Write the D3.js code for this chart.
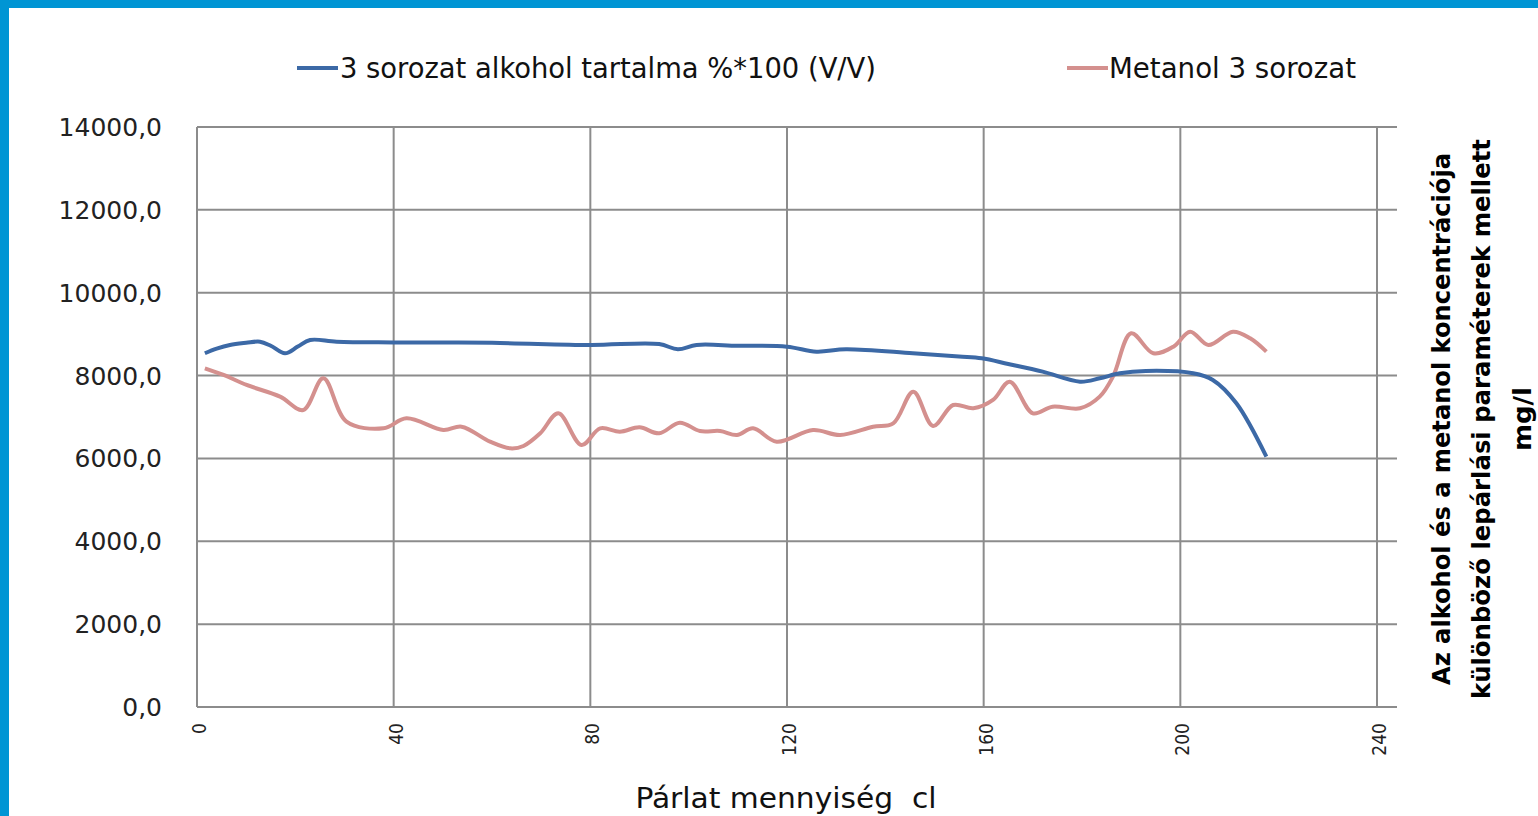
<!DOCTYPE html>
<html>
<head>
<meta charset="utf-8">
<script src="https://cdn.jsdelivr.net/npm/d3@7"></script>
<style>
  html, body { margin: 0; padding: 0; background: #fff; }
  svg { display: block; }
</style>
</head>
<body>
<svg id="chart" width="1538" height="816"></svg>
<script>
// ---- data ----
const alcoholX = [1.6, 4, 6.7, 10, 12.8, 15, 17.9, 20.5, 23, 28.4, 40, 60, 80, 94, 97.8, 101.6, 110, 120, 126, 132, 145.6, 155, 159.6, 165, 172, 179.6, 183.6, 187.7, 193, 202.6, 206.6, 211.4, 217.5];
const alcoholY = [8538, 8650, 8739, 8790, 8818, 8720, 8538, 8700, 8859, 8818, 8800, 8790, 8739, 8760, 8635, 8739, 8720, 8698, 8577, 8635, 8538, 8460, 8417, 8280, 8095, 7853, 7934, 8055, 8111, 8055, 7894, 7331, 6042];

const methanolX = [1.6, 5.4, 10.1, 16.9, 21.6, 25.7, 30.4, 37.9, 42.6, 50.1, 53.8, 59.6, 63.7, 66.4, 69.8, 73.5, 78.2, 82, 86, 90, 94, 98.2, 102.3, 106.4, 109.8, 113.1, 117.9, 125.3, 130.8, 137.5, 141.6, 145.7, 149.7, 153.8, 157.9, 161.9, 165.3, 170, 174, 179.6, 183.6, 186.3, 190, 194.5, 198.6, 202, 205.7, 210.7, 214.2, 217.5];
const methanolY = [8176, 8015, 7773, 7491, 7169, 7934, 6887, 6726, 6968, 6686, 6766, 6404, 6244, 6300, 6606, 7089, 6324, 6726, 6646, 6750, 6606, 6863, 6662, 6662, 6566, 6726, 6404, 6686, 6566, 6766, 6847, 7612, 6783, 7290, 7210, 7411, 7853, 7089, 7250, 7210, 7491, 7974, 9020, 8538, 8698, 9060, 8739, 9060, 8899, 8577];

const seriesNames = ["3 sorozat alkohol tartalma %*100 (V/V)", "Metanol 3 sorozat"];
const xTicks = [0, 40, 80, 120, 160, 200, 240];
const yTicks = [0, 2000, 4000, 6000, 8000, 10000, 12000, 14000];
const xTitle = "Párlat mennyiség  cl";
const yTitleLines = ["Az alkohol és a metanol koncentrációja", "különböző lepárlási paraméterek mellett", "mg/l"];

// ---- layout ----
const svg = d3.select("#chart");
const plotLeft = 197, plotRight = 1397, plotTop = 127, plotBottom = 707;
const x = d3.scaleLinear().domain([0, 240]).range([197, 1377]);
const y = d3.scaleLinear().domain([0, 14000]).range([plotBottom, plotTop]);
const colors = ["#3c69a6", "#d4908e"];
const gridColor = "#8c8c8c";

// frame
svg.append("rect").attr("x", 0).attr("y", 0).attr("width", 1538).attr("height", 816).attr("fill", "#0095d4");
svg.append("rect").attr("x", 9).attr("y", 8).attr("width", 1538 - 9).attr("height", 816 - 8).attr("fill", "#ffffff");

// horizontal grid
svg.append("g").selectAll("line").data(yTicks).join("line")
  .attr("x1", plotLeft).attr("x2", plotRight)
  .attr("y1", d => y(d)).attr("y2", d => y(d))
  .attr("stroke", gridColor).attr("stroke-width", 2);

// vertical grid
svg.append("g").selectAll("line").data(xTicks).join("line")
  .attr("x1", d => x(d)).attr("x2", d => x(d))
  .attr("y1", plotTop).attr("y2", plotBottom)
  .attr("stroke", gridColor).attr("stroke-width", 2);

// y tick labels
const fmt = d => d3.format(".1f")(d).replace(".", ",");
svg.append("g").selectAll("text").data(yTicks).join("text")
  .attr("x", 162).attr("y", d => y(d))
  .attr("dy", "0.36em")
  .attr("text-anchor", "end")
  .attr("font-family", "DejaVu Sans")
  .attr("font-size", 25)
  .attr("fill", "#222")
  .text(fmt);

// x tick labels (rotated)
svg.append("g").selectAll("text").data(xTicks).join("text")
  .attr("transform", d => `translate(${x(d) + 2},723) rotate(-90)`)
  .attr("dy", "0.36em")
  .attr("text-anchor", "end")
  .attr("font-family", "DejaVu Sans Condensed, DejaVu Sans")
  .attr("font-size", 19)
  .attr("fill", "#222")
  .text(d => d);

// lines
const line = d3.line().x(d => x(d[0])).y(d => y(d[1])).curve(d3.curveCatmullRom.alpha(0.5));
const alcohol = alcoholX.map((v, i) => [v, alcoholY[i]]);
const methanol = methanolX.map((v, i) => [v, methanolY[i]]);
svg.append("path").datum(methanol).attr("d", line)
  .attr("fill", "none").attr("stroke", colors[1]).attr("stroke-width", 4).attr("stroke-linejoin", "round");
svg.append("path").datum(alcohol).attr("d", line)
  .attr("fill", "none").attr("stroke", colors[0]).attr("stroke-width", 4).attr("stroke-linejoin", "round");

// legend
const legend = [
  { lx: 297, tx: 340, tw: 536, name: seriesNames[0], c: colors[0] },
  { lx: 1067, tx: 1109, tw: 247, name: seriesNames[1], c: colors[1] }
];
const lg = svg.append("g");
legend.forEach(l => {
  lg.append("line").attr("x1", l.lx).attr("x2", l.lx + 41).attr("y1", 68).attr("y2", 68)
    .attr("stroke", l.c).attr("stroke-width", 4);
  lg.append("text").attr("x", l.tx).attr("y", 78)
    .attr("font-family", "DejaVu Sans Condensed, DejaVu Sans")
    .attr("font-size", 28).attr("fill", "#111")
    .attr("textLength", l.tw).attr("lengthAdjust", "spacingAndGlyphs")
    .text(l.name);
});

// x title
svg.append("text").attr("x", 786).attr("y", 808)
  .attr("text-anchor", "middle")
  .attr("font-family", "DejaVu Sans Condensed, DejaVu Sans")
  .attr("font-size", 28).attr("fill", "#111")
  .style("white-space", "pre")
  .attr("textLength", 301).attr("lengthAdjust", "spacingAndGlyphs")
  .text(xTitle);

// right title (rotated)
const rtX = [1441, 1481, 1522];
const rtLen = [532, 560, 64];
yTitleLines.forEach((t, i) => {
  svg.append("text")
    .attr("transform", `translate(${rtX[i]},419) rotate(-90)`)
    .attr("dy", "0.36em")
    .attr("text-anchor", "middle")
    .attr("font-family", "DejaVu Sans Condensed, DejaVu Sans")
    .attr("font-weight", "bold")
    .attr("font-size", 24).attr("fill", "#000")
    .attr("textLength", rtLen[i]).attr("lengthAdjust", "spacingAndGlyphs")
    .text(t);
});
</script>
</body>
</html>
